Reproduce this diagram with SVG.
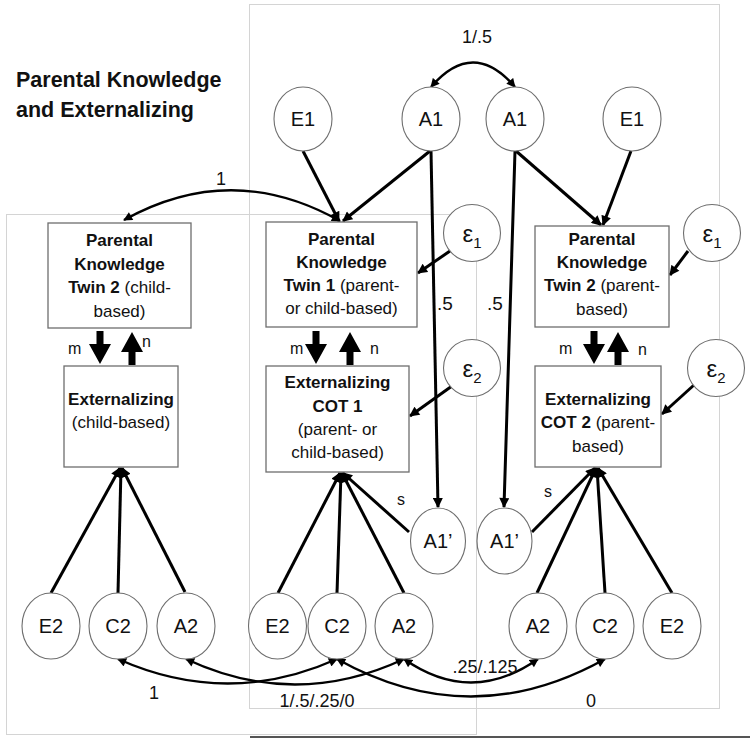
<svg xmlns="http://www.w3.org/2000/svg" width="750" height="739" viewBox="0 0 750 739">
<defs>
<style>
text{font-family:"Liberation Sans",Arial,sans-serif;fill:#111}
.frame{fill:none;stroke:#d4d4d4;stroke-width:1}
.node ellipse{fill:#fff;stroke:#6e6e6e;stroke-width:1.1}
.node rect{fill:#fff;stroke:#6e6e6e;stroke-width:1.3}
.lbl{font-size:20px;text-anchor:middle}
.bx{font-size:17px;text-anchor:middle}
.b{font-weight:bold}
.el{font-size:18px}
.mn{font-size:16px}
.c{fill:none;stroke:#000;stroke-width:3;marker-end:url(#ah)}
.cv{fill:none;stroke:#000;stroke-width:2.4;marker-end:url(#ah2);marker-start:url(#ah2)}
.blk{fill:#000}
</style>
<marker id="ah" viewBox="0 0 10 10" refX="9" refY="5" markerWidth="11" markerHeight="10" markerUnits="userSpaceOnUse" orient="auto">
<path d="M0,0 L10,5 L0,10 z" fill="#000"/>
</marker>
<marker id="ah2" viewBox="0 0 10 10" refX="9" refY="5" markerWidth="10" markerHeight="9" markerUnits="userSpaceOnUse" orient="auto-start-reverse">
<path d="M0,0 L10,5 L0,10 z" fill="#000"/>
</marker>
<path id="down" d="M-3.5,0 H3.5 V13 H11 L0,33 L-11,13 H-3.5 z"/>
<path id="up" d="M-3.5,33 H3.5 V20 H11 L0,0 L-11,20 H-3.5 z"/>
</defs>
<rect width="750" height="739" fill="#fff"/>
<g id="frames">
<rect class="frame" x="249.5" y="4.5" width="470" height="704"/>
<rect class="frame" x="6.5" y="214.5" width="470" height="520"/>
<line x1="250" y1="737" x2="750" y2="737" stroke="#555" stroke-width="2"/>
</g>
<g id="title">
<text x="16" y="87" font-size="21.5" class="b">Parental Knowledge</text>
<text x="16" y="117" font-size="21.5" class="b">and Externalizing</text>
</g>
<g id="connectors">
<line class="c" x1="303" y1="151" x2="339" y2="221"/>
<line class="c" x1="430" y1="151" x2="343" y2="221"/>
<line class="c" x1="431" y1="151" x2="438" y2="507"/>
<line class="c" x1="515" y1="151" x2="504" y2="507"/>
<line class="c" x1="516" y1="151" x2="601" y2="225"/>
<line class="c" x1="631" y1="151" x2="603" y2="225"/>
<path class="cv" d="M340,221 Q232,160 124,220"/>
<path class="cv" d="M431,87 Q473,38 515,87"/>
<line class="c" x1="450" y1="251" x2="418" y2="273"/>
<line class="c" x1="452" y1="386" x2="410" y2="416"/>
<line class="c" x1="688" y1="251" x2="670" y2="275"/>
<line class="c" x1="694" y1="385" x2="662" y2="414"/>
<line class="c" x1="51" y1="593" x2="120" y2="468"/>
<line class="c" x1="118" y1="593" x2="121" y2="468"/>
<line class="c" x1="185" y1="592" x2="122" y2="468"/>
<line class="c" x1="278" y1="593" x2="340" y2="473"/>
<line class="c" x1="337" y1="593" x2="341" y2="473"/>
<line class="c" x1="404" y1="593" x2="342" y2="473"/>
<line class="c" x1="409" y1="532" x2="343" y2="473"/>
<line class="c" x1="532" y1="532" x2="595" y2="468"/>
<line class="c" x1="537" y1="593" x2="596" y2="468"/>
<line class="c" x1="605" y1="593" x2="597" y2="468"/>
<line class="c" x1="672" y1="593" x2="598" y2="468"/>
<path class="cv" d="M118,659 Q228,708 337,659"/>
<path class="cv" d="M186,659 Q295,710 404,659"/>
<path class="cv" d="M404,659 Q471,706 538,659"/>
<path class="cv" d="M337,659 Q471,734 605,659"/>
<use href="#down" class="blk" x="100" y="331"/>
<use href="#up" class="blk" x="132" y="332"/>
<use href="#down" class="blk" x="316" y="331"/>
<use href="#up" class="blk" x="350" y="332"/>
<use href="#down" class="blk" x="594" y="331"/>
<use href="#up" class="blk" x="618" y="332"/>
<text class="el" x="221" y="185" text-anchor="middle">1</text>
<text class="el" x="477" y="43" text-anchor="middle">1/.5</text>
<text x="437" y="310" font-size="19">.5</text>
<text x="487" y="310" font-size="19">.5</text>
<text class="mn" x="397" y="505">s</text>
<text class="mn" x="544" y="497">s</text>
<text class="el" x="154" y="699" text-anchor="middle">1</text>
<text class="el" x="317" y="707" text-anchor="middle">1/.5/.25/0</text>
<text class="el" x="485" y="673" text-anchor="middle">.25/.125</text>
<text class="el" x="591" y="707" text-anchor="middle">0</text>
<text class="mn" x="68" y="354">m</text>
<text class="mn" x="142" y="347">n</text>
<text class="mn" x="290" y="354">m</text>
<text class="mn" x="370" y="354">n</text>
<text class="mn" x="559" y="354">m</text>
<text class="mn" x="638" y="355">n</text>
</g>
<g id="E1_left" class="node"><ellipse cx="303" cy="119" rx="29" ry="32"/><text class="lbl" x="303" y="126">E1</text></g>
<g id="A1_left" class="node"><ellipse cx="431" cy="119" rx="29" ry="32"/><text class="lbl" x="431" y="126">A1</text></g>
<g id="A1_right" class="node"><ellipse cx="515" cy="119" rx="29" ry="32"/><text class="lbl" x="515" y="126">A1</text></g>
<g id="E1_right" class="node"><ellipse cx="632" cy="119" rx="29" ry="32"/><text class="lbl" x="632" y="126">E1</text></g>
<g id="eps1_mid" class="node"><ellipse cx="472" cy="233" rx="28.5" ry="28.5"/><text x="472" y="242" font-size="24" text-anchor="middle">ε<tspan font-size="15" dy="6">1</tspan></text></g>
<g id="eps2_mid" class="node"><ellipse cx="472" cy="368" rx="28.5" ry="28.5"/><text x="472" y="377" font-size="24" text-anchor="middle">ε<tspan font-size="15" dy="6">2</tspan></text></g>
<g id="eps1_right" class="node"><ellipse cx="712" cy="233" rx="28.5" ry="28.5"/><text x="712" y="242" font-size="24" text-anchor="middle">ε<tspan font-size="15" dy="6">1</tspan></text></g>
<g id="eps2_right" class="node"><ellipse cx="716" cy="368" rx="28.5" ry="28.5"/><text x="716" y="377" font-size="24" text-anchor="middle">ε<tspan font-size="15" dy="6">2</tspan></text></g>
<g id="PK_twin2_child" class="node"><rect x="48" y="223" width="143" height="105"/>
<text class="bx" x="119.5" y="246"><tspan class="b">Parental</tspan></text>
<text class="bx" x="119.5" y="270"><tspan class="b">Knowledge</tspan></text>
<text class="bx" x="119.5" y="293"><tspan class="b">Twin 2</tspan> (child-</text>
<text class="bx" x="119.5" y="317">based)</text></g>
<g id="Ext_child" class="node"><rect x="64" y="366" width="114" height="101"/>
<text class="bx" x="121" y="405"><tspan class="b">Externalizing</tspan></text>
<text class="bx" x="121" y="428">(child-based)</text></g>
<g id="PK_twin1" class="node"><rect x="266" y="222" width="151" height="105"/>
<text class="bx" x="341.5" y="245"><tspan class="b">Parental</tspan></text>
<text class="bx" x="341.5" y="268"><tspan class="b">Knowledge</tspan></text>
<text class="bx" x="341.5" y="291"><tspan class="b">Twin 1</tspan> (parent-</text>
<text class="bx" x="341.5" y="314">or child-based)</text></g>
<g id="Ext_COT1" class="node"><rect x="266" y="366" width="143" height="106"/>
<text class="bx" x="337.5" y="388"><tspan class="b">Externalizing</tspan></text>
<text class="bx" x="337.5" y="412"><tspan class="b">COT 1</tspan></text>
<text class="bx" x="337.5" y="435">(parent- or</text>
<text class="bx" x="337.5" y="458">child-based)</text></g>
<g id="PK_twin2_parent" class="node"><rect x="535" y="226" width="134" height="101"/>
<text class="bx" x="602" y="245"><tspan class="b">Parental</tspan></text>
<text class="bx" x="602" y="268"><tspan class="b">Knowledge</tspan></text>
<text class="bx" x="602" y="291"><tspan class="b">Twin 2</tspan> (parent-</text>
<text class="bx" x="602" y="315">based)</text></g>
<g id="Ext_COT2" class="node"><rect x="535" y="366" width="126" height="101"/>
<text class="bx" x="598" y="405"><tspan class="b">Externalizing</tspan></text>
<text class="bx" x="598" y="428"><tspan class="b">COT 2</tspan> (parent-</text>
<text class="bx" x="598" y="452">based)</text></g>
<g id="A1p_mid" class="node"><ellipse cx="438" cy="541" rx="27.5" ry="33"/><text class="lbl" x="438" y="548">A1’</text></g>
<g id="A1p_right" class="node"><ellipse cx="504.5" cy="541" rx="27.5" ry="33"/><text class="lbl" x="504.5" y="548">A1’</text></g>
<g id="E2_L" class="node"><ellipse cx="51" cy="626" rx="29" ry="33"/><text class="lbl" x="51" y="633">E2</text></g>
<g id="C2_L" class="node"><ellipse cx="118" cy="626" rx="29" ry="33"/><text class="lbl" x="118" y="633">C2</text></g>
<g id="A2_L" class="node"><ellipse cx="186" cy="626" rx="29" ry="33"/><text class="lbl" x="186" y="633">A2</text></g>
<g id="E2_M" class="node"><ellipse cx="277.5" cy="626" rx="29" ry="33"/><text class="lbl" x="277.5" y="633">E2</text></g>
<g id="C2_M" class="node"><ellipse cx="337" cy="626" rx="29" ry="33"/><text class="lbl" x="337" y="633">C2</text></g>
<g id="A2_M" class="node"><ellipse cx="404" cy="626" rx="29" ry="33"/><text class="lbl" x="404" y="633">A2</text></g>
<g id="A2_R" class="node"><ellipse cx="538" cy="626" rx="29" ry="33"/><text class="lbl" x="538" y="633">A2</text></g>
<g id="C2_R" class="node"><ellipse cx="605" cy="626" rx="29" ry="33"/><text class="lbl" x="605" y="633">C2</text></g>
<g id="E2_R" class="node"><ellipse cx="672" cy="626" rx="29" ry="33"/><text class="lbl" x="672" y="633">E2</text></g>
</svg>
